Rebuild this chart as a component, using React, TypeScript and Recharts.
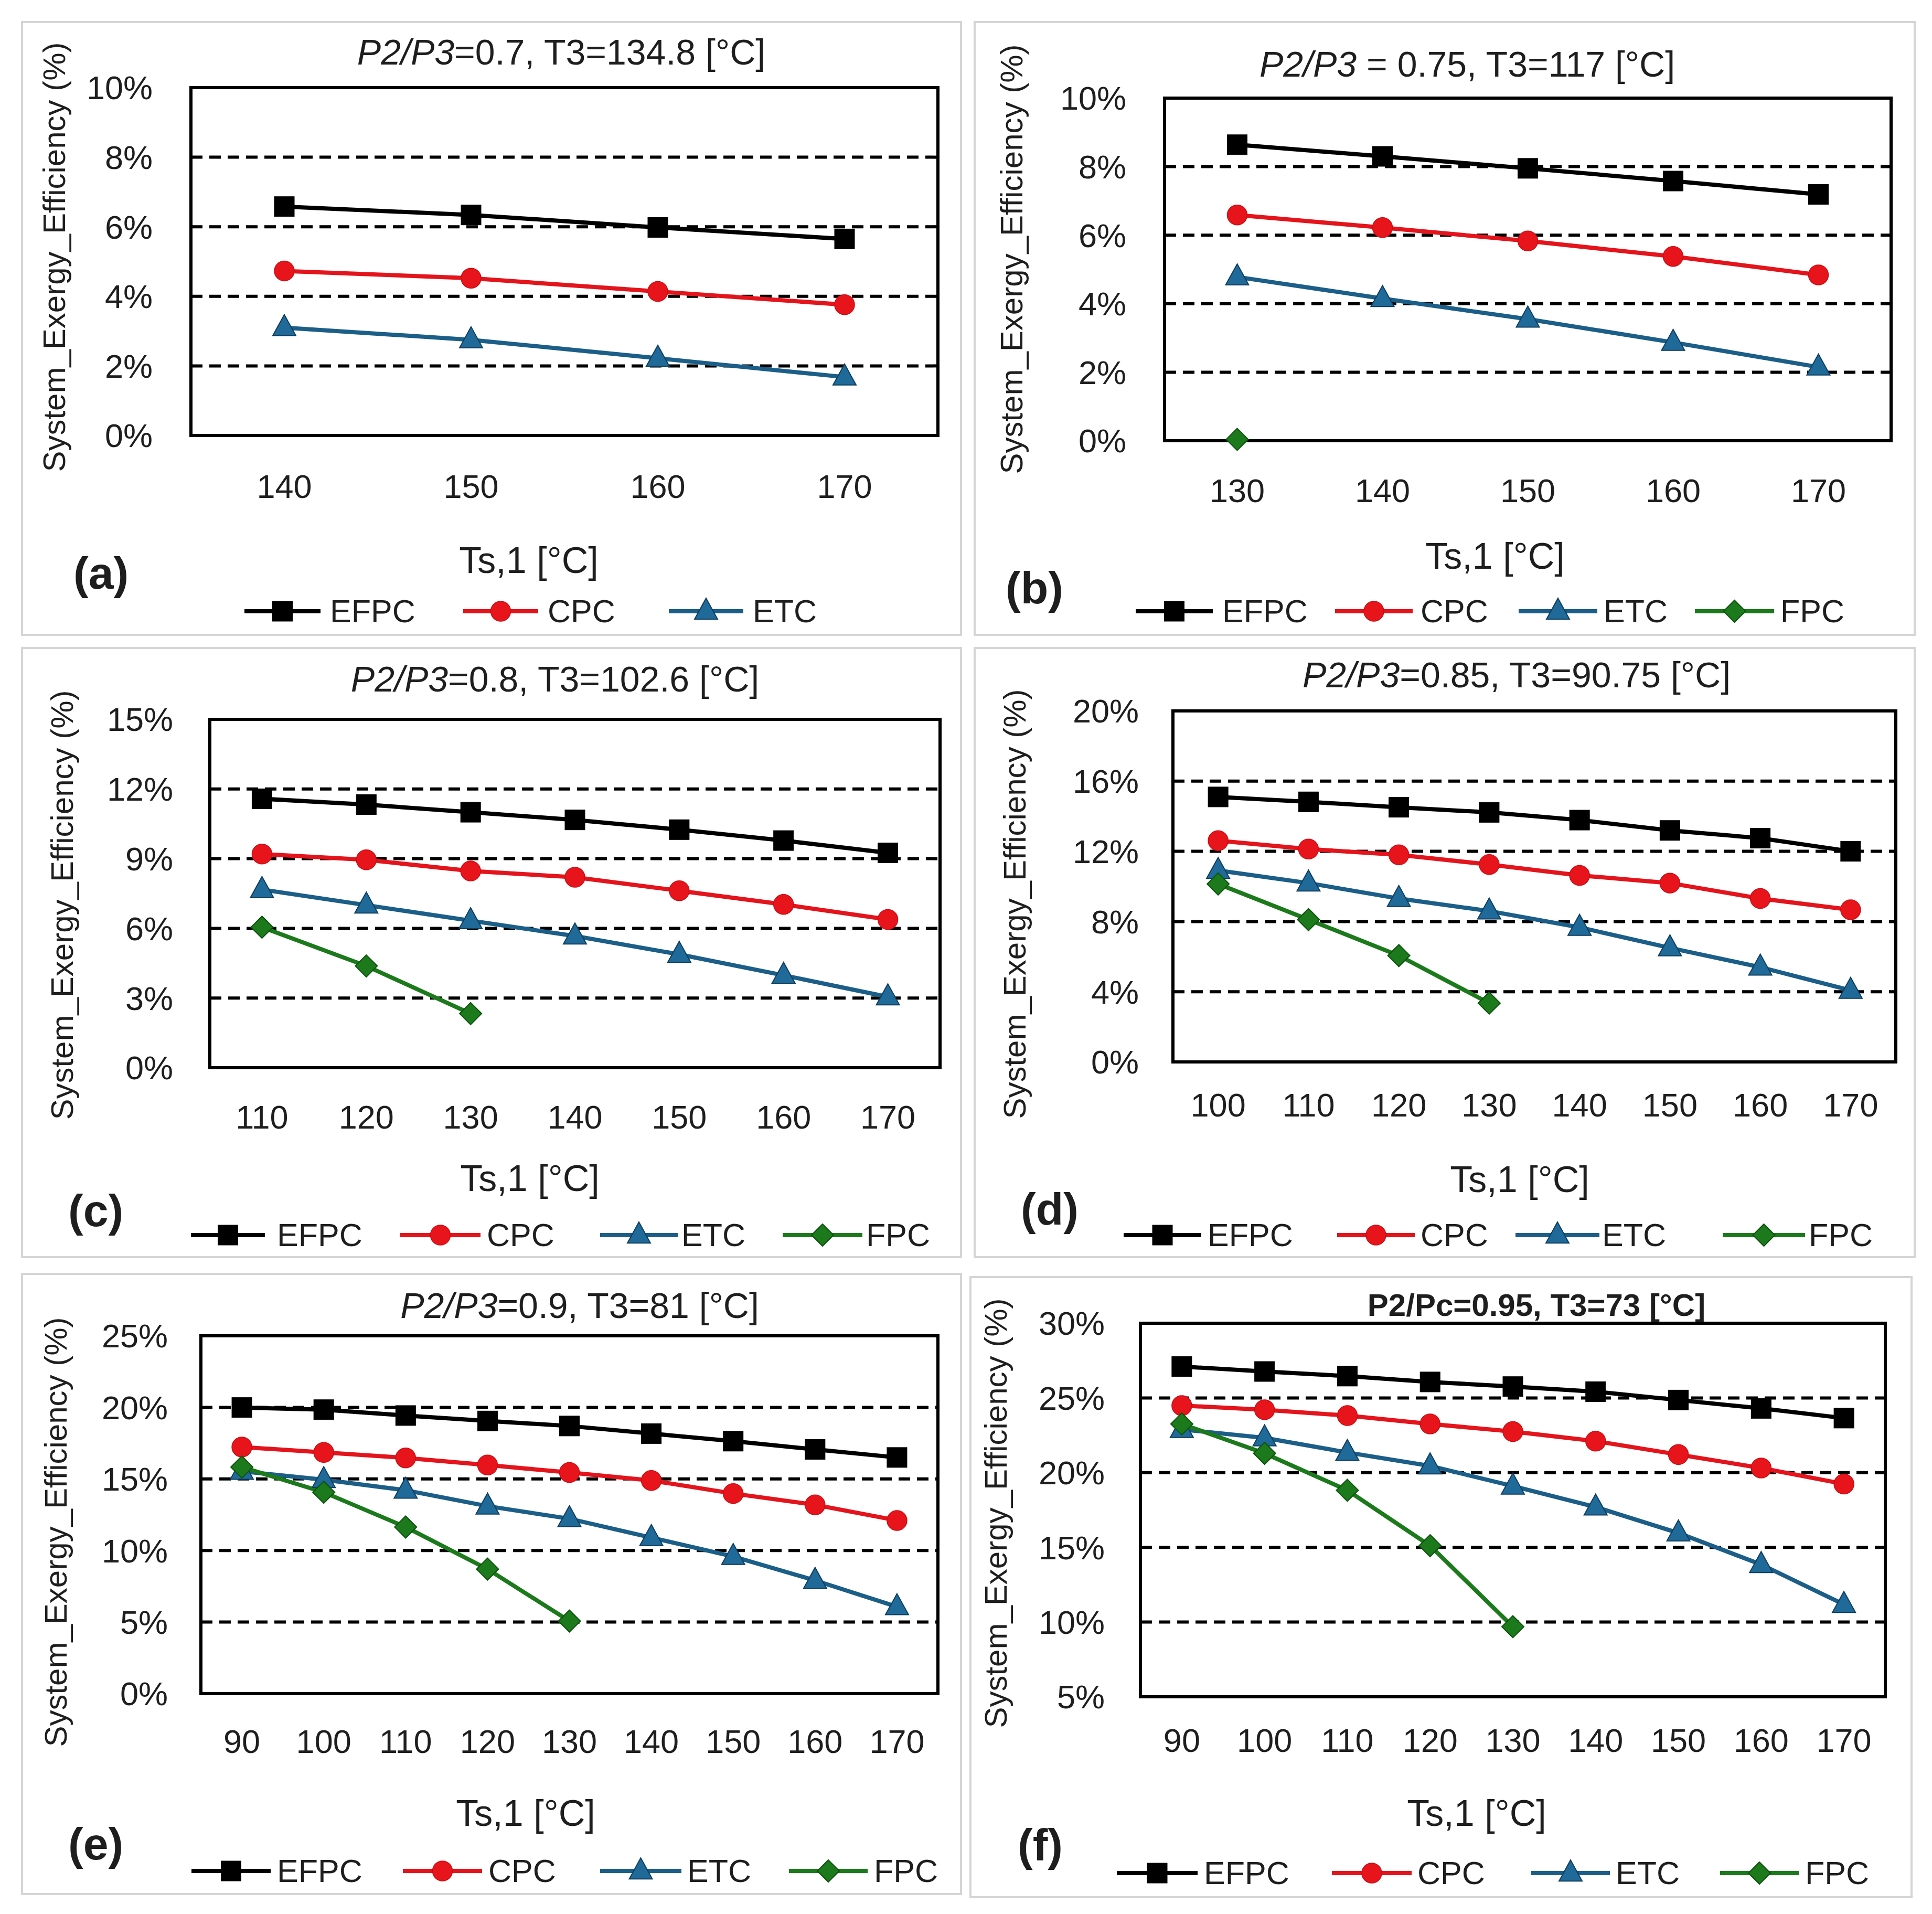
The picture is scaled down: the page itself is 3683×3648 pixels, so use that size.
import React from 'react';
import { LineChart, Line, XAxis, YAxis, CartesianGrid } from 'recharts';

// ---------- data ----------
const xA = [140, 150, 160, 170];
const efpcA = [6.58, 6.34, 5.98, 5.65];
const cpcA = [4.73, 4.52, 4.14, 3.76];
const etcA = [3.1, 2.75, 2.22, 1.68];

const xB = [130, 140, 150, 160, 170];
const efpcB = [8.64, 8.3, 7.95, 7.58, 7.19];
const cpcB = [6.59, 6.22, 5.83, 5.38, 4.84];
const etcB = [4.78, 4.15, 3.55, 2.87, 2.15];
const fpcB = [0.04];

const xC = [110, 120, 130, 140, 150, 160, 170];
const efpcC = [11.58, 11.33, 11.0, 10.67, 10.25, 9.78, 9.25];
const cpcC = [9.2, 8.95, 8.47, 8.2, 7.62, 7.03, 6.38];
const etcC = [7.67, 7.0, 6.33, 5.67, 4.88, 3.98, 3.05];
const fpcC = [6.05, 4.38, 2.33];

const xD = [100, 110, 120, 130, 140, 150, 160, 170];
const efpcD = [15.1, 14.82, 14.51, 14.22, 13.78, 13.19, 12.75, 12.0];
const cpcD = [12.61, 12.13, 11.8, 11.25, 10.63, 10.19, 9.31, 8.67];
const etcD = [10.91, 10.19, 9.31, 8.6, 7.67, 6.5, 5.4, 4.08];
const fpcD = [10.14, 8.11, 6.06, 3.35];

const xE = [90, 100, 110, 120, 130, 140, 150, 160, 170];
const efpcE = [19.99, 19.84, 19.43, 19.05, 18.7, 18.17, 17.64, 17.06, 16.5];
const cpcE = [17.23, 16.85, 16.47, 15.97, 15.45, 14.89, 13.98, 13.19, 12.1];
const etcE = [15.53, 14.95, 14.21, 13.1, 12.22, 10.9, 9.58, 7.91, 6.07];
const fpcE = [15.83, 14.07, 11.64, 8.7, 5.07];

const xF = [90, 100, 110, 120, 130, 140, 150, 160, 170];
const efpcF = [27.1, 26.77, 26.46, 26.07, 25.76, 25.42, 24.86, 24.3, 23.65];
const cpcF = [24.49, 24.21, 23.82, 23.26, 22.75, 22.11, 21.21, 20.31, 19.24];
const etcF = [22.89, 22.33, 21.35, 20.45, 19.1, 17.7, 15.96, 13.85, 11.18];
const fpcF = [23.26, 21.29, 18.82, 15.11, 9.69];

const ticksA = [0, 2, 4, 6, 8, 10];
const ticksC = [0, 3, 6, 9, 12, 15];
const ticksD = [0, 4, 8, 12, 16, 20];
const ticksE = [0, 5, 10, 15, 20, 25];
const ticksF = [5, 10, 15, 20, 25, 30];

const xTitle = 'Ts,1 [°C]';
const yTitle = 'System_Exergy_Efficiency (%)';

// ---------- styles ----------
const FONT = '"Liberation Sans", Arial, "DejaVu Sans", sans-serif';
const TXT = '#1e1e1e';
const LW = 8;

const SERIES: Record<string, { color: string; shape: string; fill: string; edge: string }> = {
  EFPC: { color: '#000000', shape: 'square', fill: '#000000', edge: '#000000' },
  CPC: { color: '#e3141b', shape: 'circle', fill: '#e8141b', edge: '#c80d12' },
  ETC: { color: '#1b5e88', shape: 'triangle', fill: '#1f6a99', edge: '#0e3d5e' },
  FPC: { color: '#1c7a1c', shape: 'diamond', fill: '#1c7a1c', edge: '#0b520b' },
};

function Marker({ shape, cx, cy, fill, edge }: any) {
  if (shape === 'square') {
    const s = 38;
    return <rect x={cx - s / 2} y={cy - s / 2} width={s} height={s} fill={fill} stroke={edge} strokeWidth={1} />;
  }
  if (shape === 'circle') {
    return <circle cx={cx} cy={cy} r={19} fill={fill} stroke={edge} strokeWidth={1.5} />;
  }
  if (shape === 'triangle') {
    const h = 40, w = 44;
    return (
      <polygon
        points={`${cx},${cy - h * 0.62} ${cx + w / 2},${cy + h * 0.38} ${cx - w / 2},${cy + h * 0.38}`}
        fill={fill}
        stroke={edge}
        strokeWidth={2}
      />
    );
  }
  const r = 21;
  return (
    <polygon
      points={`${cx},${cy - r} ${cx + r},${cy} ${cx},${cy + r} ${cx - r},${cy}`}
      fill={fill}
      stroke={edge}
      strokeWidth={2}
    />
  );
}

const makeDot = (name: string) => (props: any) => {
  const { cx, cy, index, value } = props;
  const s = SERIES[name];
  if (value == null || cx == null || cy == null || isNaN(cy)) return <g key={`${name}-${index}`} />;
  return (
    <g key={`${name}-${index}`}>
      <Marker shape={s.shape} cx={cx} cy={cy} fill={s.fill} edge={s.edge} />
    </g>
  );
};

type Cfg = {
  box: number[];
  plot: number[];
  xs: number[];
  series: Record<string, (number | null)[]>;
  domain: number[];
  yTicks: number[];
  xGap: number;
  yGap: number;
  titleItalic: string;
  titleRest: string;
  titleBold?: boolean;
  title: number[];
  xT: number[];
  letter: string;
  letterPos: number[];
  legendY: number;
  legend: number[][];
  yLab: number[];
};

function buildRows(xs: number[], series: Record<string, (number | null)[]>) {
  return xs.map((x, i) => {
    const r: any = { x };
    Object.keys(series).forEach((k) => {
      const v = series[k][i];
      r[k] = v == null ? null : v;
    });
    return r;
  });
}

function Panel({ c }: { c: Cfg }) {
  const [x0, y0, x1, y1] = c.box;
  const [L, T, R, B] = c.plot;
  const w = x1 - x0;
  const h = y1 - y0;
  const xAxisH = 150;
  const rows = buildRows(c.xs, c.series);
  const names = Object.keys(c.series);
  const tickStyle = { fontSize: 63, fill: TXT, fontFamily: FONT };
  return (
    <>
      <div
        style={{
          position: 'absolute',
          left: x0,
          top: y0,
          width: w,
          height: h,
          border: '4px solid #d5d5d5',
          boxSizing: 'border-box',
        }}
      />
      <div
        style={{
          position: 'absolute',
          left: L - 3,
          top: T - 3,
          width: R - L + 6,
          height: B - T + 6,
          border: '6px solid #000',
          boxSizing: 'border-box',
          pointerEvents: 'none',
        }}
      />
      <div style={{ position: 'absolute', left: x0, top: y0 }}>
        <LineChart
          width={w}
          height={h}
          data={rows}
          margin={{ top: T - y0, left: 0, right: x1 - R, bottom: y1 - B - xAxisH }}
        >
          <CartesianGrid vertical={false} stroke="#000" strokeDasharray="22 13" strokeWidth={6} />
          <XAxis
            dataKey="x"
            type="category"
            scale="band"
            interval={0}
            tickLine={false}
            axisLine={false}
            tickSize={0}
            tickMargin={c.xGap}
            height={xAxisH}
            tick={tickStyle}
          />
          <YAxis
            type="number"
            domain={c.domain}
            ticks={c.yTicks}
            width={L - x0}
            tickLine={false}
            axisLine={false}
            tickSize={0}
            tickMargin={c.yGap}
            tickFormatter={(v: number) => `${v}%`}
            tick={tickStyle}
          />
          {names.map((n) => (
            <Line
              key={n}
              dataKey={n}
              stroke={SERIES[n].color}
              strokeWidth={LW}
              dot={makeDot(n)}
              activeDot={false}
              connectNulls={false}
              isAnimationActive={false}
            />
          ))}
        </LineChart>
      </div>
      <div
        style={{
          position: 'absolute',
          left: c.title[0],
          top: c.title[1],
          transform: 'translate(-50%, -50%)',
          whiteSpace: 'nowrap',
          fontSize: c.titleBold ? 60 : 68,
          fontWeight: c.titleBold ? 700 : 400,
          fontFamily: FONT,
          color: TXT,
          lineHeight: 1,
        }}
      >
        {c.titleItalic ? <i>{c.titleItalic}</i> : null}
        {c.titleRest}
      </div>
      <div
        style={{
          position: 'absolute',
          left: c.xT[0],
          top: c.xT[1],
          transform: 'translate(-50%, -50%)',
          whiteSpace: 'nowrap',
          fontSize: 70,
          fontFamily: FONT,
          color: TXT,
          lineHeight: 1,
        }}
      >
        {xTitle}
      </div>
      <div
        style={{
          position: 'absolute',
          left: c.letterPos[0],
          top: c.letterPos[1],
          transform: 'translateY(-50%)',
          whiteSpace: 'nowrap',
          fontSize: 86,
          fontWeight: 700,
          fontFamily: FONT,
          color: TXT,
          lineHeight: 1,
        }}
      >
        {c.letter}
      </div>
      <div
        style={{
          position: 'absolute',
          left: c.yLab[0],
          top: c.yLab[1],
          transform: 'translate(-50%, -50%) rotate(-90deg)',
          whiteSpace: 'nowrap',
          fontSize: 60,
          fontFamily: FONT,
          color: TXT,
          lineHeight: 1,
        }}
      >
        {yTitle}
      </div>
      {names.map((n, i) => {
        const [ls, le, ts] = c.legend[i];
        const lw = le - ls;
        const s = SERIES[n];
        return (
          <React.Fragment key={n}>
            <svg
              style={{ position: 'absolute', left: ls, top: c.legendY - 30 }}
              width={lw}
              height={60}
            >
              <line x1={0} y1={30} x2={lw} y2={30} stroke={s.color} strokeWidth={LW} />
              <Marker shape={s.shape} cx={lw / 2} cy={30} fill={s.fill} edge={s.edge} />
            </svg>
            <div
              style={{
                position: 'absolute',
                left: ts,
                top: c.legendY,
                transform: 'translateY(-50%)',
                fontSize: 61,
                fontFamily: FONT,
                color: TXT,
                lineHeight: 1,
                whiteSpace: 'nowrap',
              }}
            >
              {n}
            </div>
          </React.Fragment>
        );
      })}
    </>
  );
}

const panels: Cfg[] = [
  {
    box: [40, 40, 1834, 1212],
    plot: [364, 167, 1788, 830],
    xs: xA,
    series: { EFPC: efpcA, CPC: cpcA, ETC: etcA },
    domain: [0, 10],
    yTicks: ticksA,
    xGap: 74,
    yGap: 73,
    titleItalic: 'P2/P3',
    titleRest: '=0.7, T3=134.8 [°C]',
    title: [1070, 99],
    xT: [1008, 1068],
    letter: '(a)',
    letterPos: [140, 1092],
    legendY: 1165,
    legend: [
      [466, 611, 629],
      [883, 1026, 1044],
      [1275, 1417, 1435],
    ],
    yLab: [104, 490],
  },
  {
    box: [1856, 40, 3652, 1212],
    plot: [2220, 187, 3605, 840],
    xs: xB,
    series: { EFPC: efpcB, CPC: cpcB, ETC: etcB, FPC: fpcB },
    domain: [0, 10],
    yTicks: ticksA,
    xGap: 72,
    yGap: 73,
    titleItalic: 'P2/P3',
    titleRest: ' = 0.75, T3=117 [°C]',
    title: [2797, 122],
    xT: [2850, 1060],
    letter: '(b)',
    letterPos: [1917, 1120],
    legendY: 1165,
    legend: [
      [2165, 2312, 2330],
      [2545, 2693, 2708],
      [2895, 3045, 3057],
      [3231, 3382, 3394],
    ],
    yLab: [1929, 494],
  },
  {
    box: [40, 1233, 1834, 2398],
    plot: [400, 1371, 1792, 2035],
    xs: xC,
    series: { EFPC: efpcC, CPC: cpcC, ETC: etcC, FPC: fpcC },
    domain: [0, 15],
    yTicks: ticksC,
    xGap: 71,
    yGap: 70,
    titleItalic: 'P2/P3',
    titleRest: '=0.8, T3=102.6 [°C]',
    title: [1058, 1294],
    xT: [1010, 2246],
    letter: '(c)',
    letterPos: [130, 2307],
    legendY: 2354,
    legend: [
      [364, 505, 528],
      [763, 916, 928],
      [1144, 1292, 1299],
      [1492, 1644, 1651],
    ],
    yLab: [119, 1725],
  },
  {
    box: [1856, 1233, 3652, 2398],
    plot: [2236, 1355, 3614, 2024],
    xs: xD,
    series: { EFPC: efpcD, CPC: cpcD, ETC: etcD, FPC: fpcD },
    domain: [0, 20],
    yTicks: ticksD,
    xGap: 59,
    yGap: 65,
    titleItalic: 'P2/P3',
    titleRest: '=0.85, T3=90.75 [°C]',
    title: [2891, 1286],
    xT: [2897, 2248],
    letter: '(d)',
    letterPos: [1946, 2304],
    legendY: 2354,
    legend: [
      [2142, 2290, 2302],
      [2549, 2697, 2708],
      [2889, 3049, 3054],
      [3284, 3441, 3448],
    ],
    yLab: [1935, 1723],
  },
  {
    box: [40, 2426, 1834, 3612],
    plot: [383, 2546, 1788, 3228],
    xs: xE,
    series: { EFPC: efpcE, CPC: cpcE, ETC: etcE, FPC: fpcE },
    domain: [0, 25],
    yTicks: ticksE,
    xGap: 68,
    yGap: 63,
    titleItalic: 'P2/P3',
    titleRest: '=0.9, T3=81 [°C]',
    title: [1105, 2488],
    xT: [1002, 3456],
    letter: '(e)',
    letterPos: [130, 3514],
    legendY: 3566,
    legend: [
      [365, 516, 528],
      [768, 919, 931],
      [1144, 1299, 1310],
      [1504, 1654, 1666],
    ],
    yLab: [107, 2920],
  },
  {
    box: [1848, 2432, 3646, 3618],
    plot: [2174, 2522, 3594, 3234],
    xs: xF,
    series: { EFPC: efpcF, CPC: cpcF, ETC: etcF, FPC: fpcF },
    domain: [5, 30],
    yTicks: ticksF,
    xGap: 60,
    yGap: 68,
    titleItalic: '',
    titleRest: 'P2/Pc=0.95, T3=73 [°C]',
    titleBold: true,
    title: [2929, 2488],
    xT: [2815, 3456],
    letter: '(f)',
    letterPos: [1940, 3516],
    legendY: 3570,
    legend: [
      [2129, 2283, 2295],
      [2539, 2691, 2702],
      [2919, 3069, 3080],
      [3279, 3429, 3441],
    ],
    yLab: [1899, 2884],
  },
];

export default function App() {
  return (
    <div
      style={{
        position: 'absolute',
        left: 0,
        top: 0,
        width: 3683,
        height: 3648,
        background: '#ffffff',
        overflow: 'hidden',
      }}
    >
      {panels.map((p, i) => (
        <Panel key={i} c={p} />
      ))}
    </div>
  );
}
